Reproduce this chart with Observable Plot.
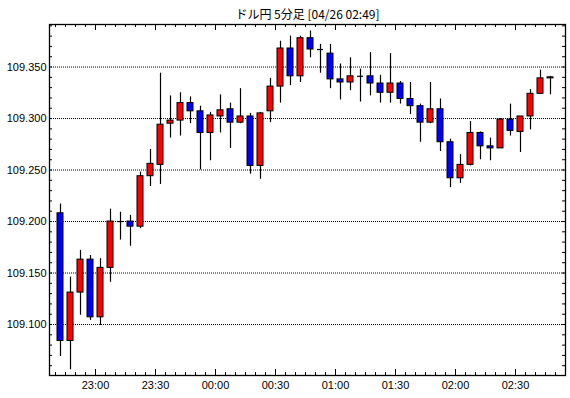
<!DOCTYPE html>
<html><head><meta charset="utf-8">
<script src="https://cdn.jsdelivr.net/npm/d3@7"></script>
<script src="https://cdn.jsdelivr.net/npm/@observablehq/plot@0.6"></script>
<style>body{margin:0;background:#fff;}</style>
</head><body><div id="chart"></div>
<script>
const title = "ドル円 5分足 [04/26 02:49]";
const times = ["22:40","22:45","22:50","22:55","23:00","23:05","23:10","23:15","23:20","23:25",
  "23:30","23:35","23:40","23:45","23:50","23:55","00:00","00:05","00:10","00:15",
  "00:20","00:25","00:30","00:35","00:40","00:45","00:50","00:55","01:00","01:05",
  "01:10","01:15","01:20","01:25","01:30","01:35","01:40","01:45","01:50","01:55",
  "02:00","02:05","02:10","02:15","02:20","02:25","02:30","02:35","02:40","02:45"];
const opens = [109.208,109.084,109.131,109.163,109.107,109.155,109.200,109.200,109.195,109.244,
  109.255,109.295,109.298,109.315,109.307,109.286,109.302,109.309,109.296,109.302,
  109.254,109.307,109.331,109.368,109.341,109.378,109.367,109.363,109.338,109.335,
  109.341,109.341,109.334,109.325,109.334,109.319,109.312,109.296,109.309,109.277,
  109.242,109.255,109.286,109.273,109.271,109.299,109.287,109.302,109.324,109.339];
const highs = [109.217,109.146,109.172,109.167,109.164,109.212,109.209,109.206,109.248,109.270,
  109.344,109.322,109.325,109.321,109.312,109.306,109.323,109.315,109.329,109.305,
  109.306,109.339,109.375,109.380,109.380,109.385,109.372,109.372,109.353,109.359,
  109.348,109.364,109.342,109.363,109.336,109.335,109.314,109.335,109.319,109.280,
  109.265,109.297,109.287,109.281,109.300,109.314,109.302,109.328,109.347,109.341];
const lows = [109.069,109.056,109.109,109.104,109.099,109.141,109.182,109.176,109.193,109.234,
  109.236,109.281,109.283,109.295,109.250,109.259,109.286,109.271,109.295,109.246,
  109.241,109.296,109.315,109.332,109.335,109.359,109.344,109.329,109.318,109.327,
  109.316,109.322,109.315,109.315,109.314,109.304,109.277,109.295,109.268,109.233,
  109.237,109.254,109.260,109.259,109.271,109.283,109.267,109.289,109.324,109.323];
const closes = [109.084,109.131,109.163,109.107,109.155,109.200,109.200,109.195,109.244,109.256,
  109.294,109.298,109.315,109.307,109.286,109.303,109.308,109.296,109.302,109.254,
  109.305,109.331,109.368,109.341,109.378,109.367,109.367,109.338,109.335,109.341,
  109.341,109.334,109.325,109.334,109.319,109.312,109.296,109.309,109.277,109.242,
  109.255,109.286,109.273,109.271,109.299,109.288,109.302,109.324,109.339,109.340];
const yTickValues = [109.100, 109.150, 109.200, 109.250, 109.300, 109.350];
const xTickLabels = ["23:00","23:30","00:00","00:30","01:00","01:30","02:00","02:30"];

function toDate(s) {
  const [h, m] = s.split(":").map(Number);
  return new Date(Date.UTC(2021, 3, h >= 12 ? 25 : 26, h, m));
}
const MIN = 60000;
const candles = times.map((t, i) => {
  const c = new Date(toDate(t).getTime() + 2.5 * MIN);
  return {t: c, x1: new Date(c.getTime() - 1.5 * MIN), x2: new Date(c.getTime() + 1.5 * MIN),
    o: opens[i], h: highs[i], l: lows[i], c: closes[i]};
});
const bodies = candles.filter(d => d.o !== d.c);
const dojis = candles.filter(d => d.o === d.c);
const majorX = xTickLabels.map(toDate);
const minorX = d3.utcMinute.every(5).range(toDate("22:40"), new Date(toDate("02:50").getTime() + 1));
const minorY = d3.range(109.06, 109.395, 0.01);

const W = 570, H = 398, mL = 49, mR = 5, mT = 24, mB = 23;
const fw = W - mL - mR, fh = H - mT - mB;

const chart = Plot.plot({
  width: W, height: H,
  marginLeft: mL, marginRight: mR, marginTop: mT, marginBottom: mB,
  style: {fontFamily: "'Liberation Sans', 'DejaVu Sans', sans-serif", fontSize: "11px", background: "white", color: "black"},
  x: {type: "utc", domain: [toDate("22:37"), toDate("02:55")]},
  y: {domain: [109.0505, 109.3913]},
  marks: [
    Plot.ruleY(yTickValues, {stroke: "black", strokeDasharray: "1,1"}),
    Plot.tickY(minorY, {y: d => d, insetRight: fw - 3, stroke: "black"}),
    Plot.tickY(minorY, {y: d => d, insetLeft: fw - 3, stroke: "black"}),
    Plot.tickX(minorX, {x: d => d, insetBottom: fh - 3, stroke: "black"}),
    Plot.tickX(minorX, {x: d => d, insetTop: fh - 3, stroke: "black"}),
    Plot.tickX(majorX, {x: d => d, insetBottom: fh - 6, stroke: "black"}),
    Plot.tickX(majorX, {x: d => d, insetTop: fh - 6, stroke: "black"}),
    Plot.ruleX(candles, {x: "t", y1: "l", y2: "h", stroke: "black", strokeWidth: 1.2}),
    Plot.rect(bodies, {x1: "x1", x2: "x2", y1: "o", y2: "c",
      fill: d => d.c > d.o ? "#ff0000" : "#0000ff", stroke: "black", strokeWidth: 1}),
    Plot.ruleY(dojis, {y: "c", x1: "x1", x2: "x2", stroke: "black", strokeWidth: 1.2}),
    Plot.axisY(yTickValues, {tickSize: 0, tickPadding: 3, tickFormat: d3.format(".3f"), label: null, fontSize: 11}),
    Plot.axisX(majorX, {tickSize: 0, tickPadding: 6, tickFormat: d3.utcFormat("%H:%M"), label: null, fontSize: 11}),
    Plot.frame({stroke: "black", strokeWidth: 1.3}),
    Plot.text([title], {frameAnchor: "top", dy: -6, lineAnchor: "bottom", fontSize: 12,
      fontFamily: "'Noto Sans CJK JP', sans-serif"})
  ]
});
document.getElementById("chart").appendChild(chart);
</script>
</body></html>
